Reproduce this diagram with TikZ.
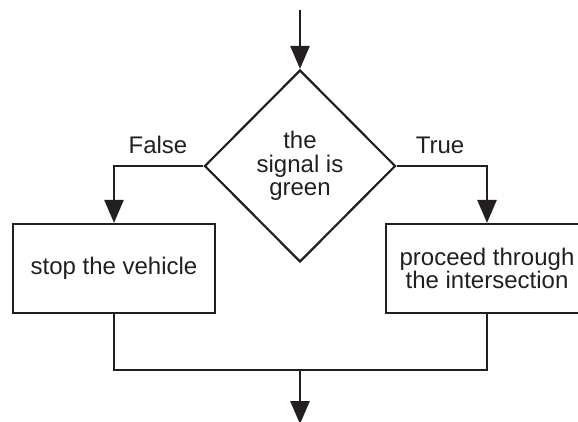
\documentclass[tikz,border=0pt]{standalone}
\usepackage{fontspec}
\setmainfont{Liberation Sans}
\usetikzlibrary{shapes.geometric,arrows.meta}
\definecolor{ink}{HTML}{231F20}
\begin{document}
\begin{tikzpicture}[x=1pt,y=-1pt,
  font=\fontsize{24}{23.5}\selectfont,
  box/.style={draw=ink,line width=2.2pt,minimum width=202pt,minimum height=89pt,inner sep=0pt,align=center,text=ink},
  decision/.style={diamond,draw=ink,line width=2.2pt,minimum width=191pt,minimum height=192pt,inner sep=0pt,align=center,text=ink},
  flow/.style={draw=ink,line width=2.6pt,-{Triangle[length=23pt,width=19pt]}},
  joinline/.style={draw=ink,line width=2.2pt},
  lbl/.style={text=ink,anchor=base}]
\useasboundingbox (0,0) rectangle (578,421);
\node[decision] (d) at (300,166) {the\\signal is\\green};
\node[box] (s) at (114,268.5) {stop the vehicle};
\node[box] (p) at (487,268.5) {proceed through\\the intersection};
\coordinate (top) at (300,10);
\coordinate (m) at (300,370);
\coordinate (end) at (300,424);
\draw[flow] (top) -- (d.north);
\draw[flow] (d.west) -| (s.north);
\draw[flow] (d.east) -| (p.north);
\draw[joinline] (s.south) |- (m) -| (p.south);
\draw[flow] (m) -- (end);
\node[lbl] (f) at (158,153) {False};
\node[lbl] (t) at (440,153) {True};
\end{tikzpicture}
\end{document}
